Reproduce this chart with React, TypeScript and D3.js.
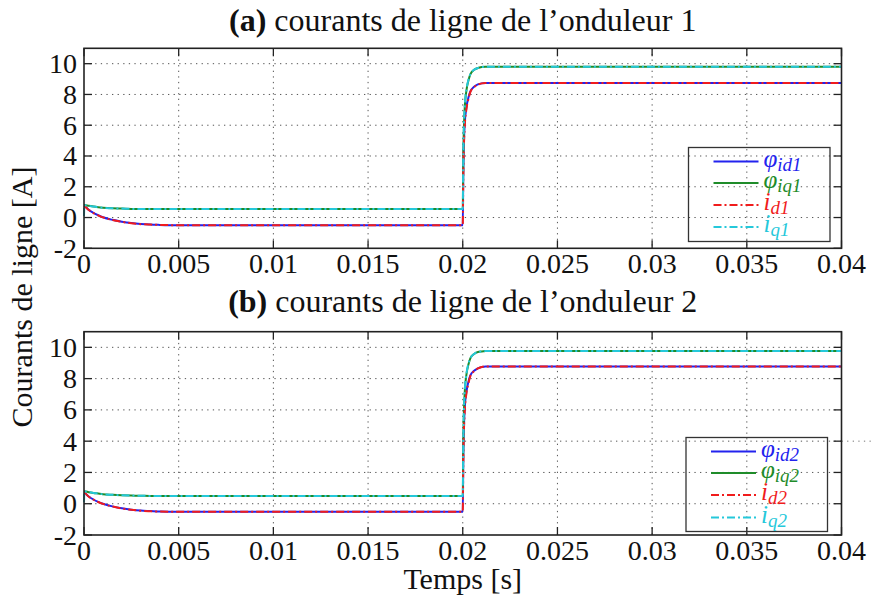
import React from 'react';
import * as d3 from 'd3';

// ---- data ----
const timeS = [0, 0.00002, 0.00025, 0.0005, 0.00075, 0.001, 0.0015, 0.002, 0.0025, 0.003, 0.0035, 0.004, 0.005, 0.01, 0.015, 0.02, 0.02003, 0.0201, 0.0202, 0.0203, 0.0204, 0.0206, 0.0208, 0.021, 0.0212, 0.022, 0.03, 0.04];

const phiId1 = [0.75, 0.74, 0.5, 0.3, 0.15, 0.02, -0.15, -0.27, -0.36, -0.42, -0.46, -0.48, -0.5, -0.5, -0.5, -0.5, 3.0, 6.0, 7.2, 7.8, 8.2, 8.5, 8.65, 8.72, 8.75, 8.75, 8.75, 8.75];
const phiIq1 = [0.82, 0.82, 0.76, 0.71, 0.67, 0.64, 0.6, 0.58, 0.56, 0.55, 0.55, 0.55, 0.55, 0.55, 0.55, 0.55, 4.0, 7.0, 8.3, 8.9, 9.3, 9.6, 9.72, 9.78, 9.8, 9.8, 9.8, 9.8];
const id1 = [0.72, 0.72, 0.49, 0.29, 0.14, 0.01, -0.16, -0.28, -0.37, -0.43, -0.46, -0.48, -0.5, -0.5, -0.5, -0.5, 2.8, 5.8, 7.1, 7.7, 8.15, 8.48, 8.64, 8.72, 8.75, 8.75, 8.75, 8.75];
const iq1 = [0.1, 0.8, 0.76, 0.71, 0.67, 0.64, 0.6, 0.58, 0.56, 0.55, 0.55, 0.55, 0.55, 0.55, 0.55, 0.55, 4.2, 7.1, 8.35, 8.95, 9.3, 9.6, 9.72, 9.78, 9.8, 9.8, 9.8, 9.8];

const phiId2 = [0.7, 0.69, 0.46, 0.27, 0.12, 0.0, -0.17, -0.29, -0.38, -0.44, -0.47, -0.5, -0.52, -0.52, -0.52, -0.52, 3.0, 6.0, 7.2, 7.8, 8.2, 8.5, 8.66, 8.74, 8.78, 8.78, 8.78, 8.78];
const phiIq2 = [0.8, 0.8, 0.74, 0.69, 0.65, 0.61, 0.57, 0.54, 0.52, 0.51, 0.5, 0.5, 0.5, 0.5, 0.5, 0.5, 4.0, 7.0, 8.3, 8.9, 9.3, 9.58, 9.7, 9.74, 9.76, 9.76, 9.76, 9.76];
const id2 = [0.68, 0.68, 0.45, 0.26, 0.11, -0.01, -0.18, -0.3, -0.39, -0.45, -0.48, -0.5, -0.52, -0.52, -0.52, -0.52, 2.8, 5.8, 7.1, 7.7, 8.15, 8.48, 8.65, 8.74, 8.78, 8.78, 8.78, 8.78];
const iq2 = [0.1, 0.78, 0.74, 0.69, 0.65, 0.61, 0.57, 0.54, 0.52, 0.51, 0.5, 0.5, 0.5, 0.5, 0.5, 0.5, 4.2, 7.1, 8.35, 8.95, 9.3, 9.58, 9.7, 9.74, 9.76, 9.76, 9.76, 9.76];

const xTicks = [0, 0.005, 0.01, 0.015, 0.02, 0.025, 0.03, 0.035, 0.04];
const xTickLabels = ['0', '0.005', '0.01', '0.015', '0.02', '0.025', '0.03', '0.035', '0.04'];
const yTicks = [-2, 0, 2, 4, 6, 8, 10];

const seriesNamesA = [
  { base: 'φ', sub: 'id1' },
  { base: 'φ', sub: 'iq1' },
  { base: 'i', sub: 'd1' },
  { base: 'i', sub: 'q1' },
];
const seriesNamesB = [
  { base: 'φ', sub: 'id2' },
  { base: 'φ', sub: 'iq2' },
  { base: 'i', sub: 'd2' },
  { base: 'i', sub: 'q2' },
];

const colors = ['#2323ee', '#1f8c2a', '#f01c1c', '#25c8da'];
const dashes = ['none', 'none', '8,3,2,3', '8,3,2,3'];

const FONT = '"Liberation Serif", "Times New Roman", serif';

const X0 = 84;
const X1 = 841.5;

type Panel = {
  tag: string;
  rest: string;
  top: number;
  bottom: number;
  titleY: number;
  values: number[][];
  names: { base: string; sub: string }[];
  legend: { x0: number; x1: number; y0: number; y1: number; rows: number[] };
  extraGrid?: boolean;
};

const panels: Panel[] = [
  {
    tag: '(a)',
    rest: ' courants de ligne de l\u2019onduleur 1',
    top: 48.3,
    bottom: 248.3,
    titleY: 31,
    values: [phiId1, phiIq1, id1, iq1],
    names: seriesNamesA,
    legend: { x0: 688.5, x1: 830, y0: 147.5, y1: 241.5, rows: [161.5, 183, 205, 227] },
  },
  {
    tag: '(b)',
    rest: ' courants de ligne de l\u2019onduleur 2',
    top: 331.7,
    bottom: 535,
    titleY: 312,
    values: [phiId2, phiIq2, id2, iq2],
    names: seriesNamesB,
    legend: { x0: 686, x1: 827.5, y0: 437.5, y1: 531.5, rows: [451.5, 473, 495, 517.5] },
    extraGrid: true,
  },
];

function PanelView({ p }: { p: Panel }) {
  const x = d3.scaleLinear().domain([0, 0.04]).range([X0, X1]);
  const y = d3.scaleLinear().domain([-2, 11]).range([p.bottom, p.top]);
  const line = d3
    .line<number>()
    .x((_, i) => x(timeS[i]))
    .y((d) => y(d))
    .curve(d3.curveMonotoneX);
  const gridStroke = '#555';
  const gridDash = '1.3,4.3';
  const tickLen = 8;
  return (
    <g>
      <text x={(X0 + X1) / 2} y={p.titleY} textAnchor="middle" fontFamily={FONT} fontSize={32} fill="#111">
        <tspan fontWeight="bold">{p.tag}</tspan>
        <tspan>{p.rest}</tspan>
      </text>
      {/* grid */}
      {xTicks.slice(1, -1).map((t) => (
        <line key={'gx' + t} x1={x(t)} x2={x(t)} y1={p.top} y2={p.bottom} stroke={gridStroke} strokeDasharray={gridDash} strokeWidth={1} />
      ))}
      {yTicks.slice(1).map((t) => (
        <line key={'gy' + t} x1={X0} x2={X1} y1={y(t)} y2={y(t)} stroke={gridStroke} strokeDasharray={gridDash} strokeWidth={1} />
      ))}
      {p.extraGrid && (
        <line x1={X1} x2={874} y1={y(4)} y2={y(4)} stroke="#777" strokeDasharray={gridDash} strokeWidth={1} />
      )}
      {/* data */}
      {p.values.map((vals, k) => (
        <path
          key={'s' + k}
          d={line(vals) || ''}
          fill="none"
          stroke={colors[k]}
          strokeWidth={2}
          strokeDasharray={dashes[k]}
        />
      ))}
      {/* border */}
      <rect x={X0} y={p.top} width={X1 - X0} height={p.bottom - p.top} fill="none" stroke="#222" strokeWidth={1.6} />
      {/* ticks */}
      {xTicks.map((t) => (
        <g key={'tx' + t}>
          <line x1={x(t)} x2={x(t)} y1={p.bottom} y2={p.bottom - tickLen} stroke="#222" strokeWidth={1.3} />
          <line x1={x(t)} x2={x(t)} y1={p.top} y2={p.top + tickLen} stroke="#222" strokeWidth={1.3} />
        </g>
      ))}
      {yTicks.map((t) => (
        <g key={'ty' + t}>
          <line x1={X0} x2={X0 + tickLen} y1={y(t)} y2={y(t)} stroke="#222" strokeWidth={1.3} />
          <line x1={X1} x2={X1 - tickLen} y1={y(t)} y2={y(t)} stroke="#222" strokeWidth={1.3} />
        </g>
      ))}
      {/* tick labels */}
      {xTicks.map((t, i) => (
        <text key={'lx' + t} x={x(t)} y={p.bottom + 25} textAnchor="middle" fontFamily={FONT} fontSize={28} fill="#111">
          {xTickLabels[i]}
        </text>
      ))}
      {yTicks.map((t) => (
        <text key={'ly' + t} x={77} y={y(t) + 9.5} textAnchor="end" fontFamily={FONT} fontSize={28} fill="#111">
          {String(t)}
        </text>
      ))}
      {/* legend */}
      <rect
        x={p.legend.x0}
        y={p.legend.y0}
        width={p.legend.x1 - p.legend.x0}
        height={p.legend.y1 - p.legend.y0}
        fill="none"
        stroke="#333"
        strokeWidth={1.3}
      />
      {p.names.map((n, k) => (
        <g key={'lg' + k}>
          <line
            x1={p.legend.x0 + 25}
            x2={p.legend.x0 + 70}
            y1={p.legend.rows[k]}
            y2={p.legend.rows[k]}
            stroke={colors[k]}
            strokeWidth={2}
            strokeDasharray={dashes[k]}
          />
          <text x={p.legend.x0 + 75} y={p.legend.rows[k] + 5} fontFamily={FONT} fill={colors[k]} fontStyle="italic">
            <tspan fontSize={25}>{n.base}</tspan>
            <tspan fontSize={19} dy={4}>{n.sub}</tspan>
          </text>
        </g>
      ))}
    </g>
  );
}

export default function App() {
  return (
    <div style={{ position: 'absolute', left: 0, top: 0 }}>
      <svg width={881} height={602} style={{ display: 'block', background: '#fff' }}>
        <rect x={0} y={0} width={881} height={602} fill="#fff" />
        {panels.map((p, i) => (
          <PanelView key={i} p={p} />
        ))}
        <text
          transform="translate(32,297) rotate(-90)"
          textAnchor="middle"
          fontFamily={FONT}
          fontSize={30}
          fill="#111"
        >
          Courants de ligne [A]
        </text>
        <text x={(X0 + X1) / 2} y={589} textAnchor="middle" fontFamily={FONT} fontSize={30} fill="#111">
          Temps [s]
        </text>
      </svg>
    </div>
  );
}
